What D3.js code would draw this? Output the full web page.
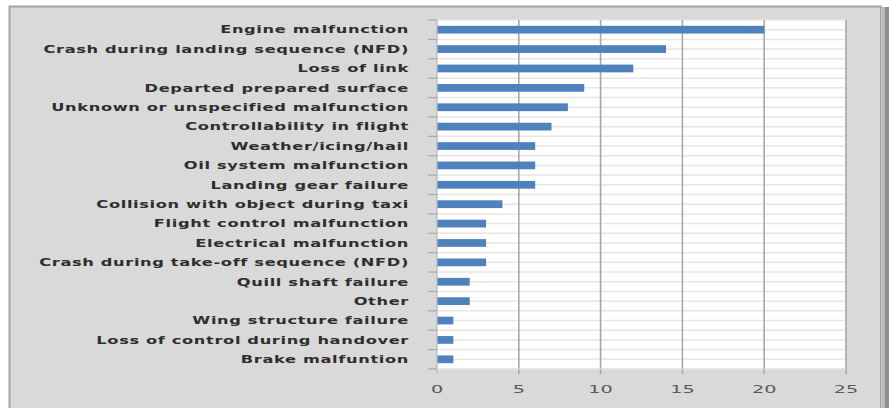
<!DOCTYPE html>
<html>
<head>
<meta charset="utf-8">
<script src="https://cdn.jsdelivr.net/npm/d3@7"></script>
<style>
  html, body { margin: 0; padding: 0; background: #ffffff; }
  svg { display: block; }
</style>
</head>
<body>
<svg id="chart" width="889" height="408"></svg>
<script>
// Incident causes and their counts, top to bottom
const causes = [
  "Engine malfunction",
  "Crash during landing sequence (NFD)",
  "Loss of link",
  "Departed prepared surface",
  "Unknown or unspecified malfunction",
  "Controllability in flight",
  "Weather/icing/hail",
  "Oil system malfunction",
  "Landing gear failure",
  "Collision with object during taxi",
  "Flight control malfunction",
  "Electrical malfunction",
  "Crash during take-off sequence (NFD)",
  "Quill shaft failure",
  "Other",
  "Wing structure failure",
  "Loss of control during handover",
  "Brake malfuntion"
];
const counts = [20, 14, 12, 9, 8, 7, 6, 6, 6, 4, 3, 3, 3, 2, 2, 1, 1, 1];
const xTicks = [0, 5, 10, 15, 20, 25];

const svg = d3.select("#chart");

// Chart frame
const frame = { left: 9.5, top: 6.5, right: 881, bottom: 420 };
const plot = { left: 437, right: 846, top: 20, bottom: 369 };

svg.append("rect")
  .attr("x", frame.left).attr("y", frame.top)
  .attr("width", frame.right - frame.left).attr("height", frame.bottom - frame.top)
  .attr("fill", "#d9d9d9").attr("stroke", "#a3a3a3").attr("stroke-width", 2);
// drop shadow along the right edge
svg.append("rect").attr("x", 881).attr("y", 7).attr("width", 3.5).attr("height", 420).attr("fill", "#bdbdbd");
svg.append("rect").attr("x", 884.5).attr("y", 7).attr("width", 5).attr("height", 420).attr("fill", "#8e8e8e");

const x = d3.scaleLinear().domain([0, 25]).range([plot.left, plot.right]);
const p = 0.6;
const y = d3.scaleBand().domain(causes).range([plot.top, plot.bottom])
  .paddingInner(p).paddingOuter(p / 2);
const step = y.step();

// Plot area
svg.append("rect")
  .attr("x", plot.left).attr("y", plot.top)
  .attr("width", plot.right - plot.left).attr("height", plot.bottom - plot.top)
  .attr("fill", "#ffffff");

// faint horizontal rules at band edges and centres
const halfLines = d3.range(causes.length * 2 + 1).map(i => plot.top + i * step / 2);
svg.append("g").selectAll("line").data(halfLines).join("line")
  .attr("x1", plot.left).attr("x2", plot.right)
  .attr("y1", d => d).attr("y2", d => d)
  .attr("stroke", "#e6e6e6").attr("stroke-width", 1.5);

// vertical gridlines, running a little below the plot as tick marks
svg.append("g").selectAll("line").data(xTicks.slice(1)).join("line")
  .attr("x1", d => x(d)).attr("x2", d => x(d))
  .attr("y1", plot.top).attr("y2", plot.bottom + 5)
  .attr("stroke", "#a8a8a8").attr("stroke-width", 1.6);

// category axis line and boundary ticks
svg.append("line")
  .attr("x1", x(0)).attr("x2", x(0))
  .attr("y1", plot.top).attr("y2", plot.bottom + 5)
  .attr("stroke", "#b5b5b5").attr("stroke-width", 1.2);
const bounds = d3.range(causes.length + 1).map(i => plot.top + i * step);
svg.append("g").selectAll("line").data(bounds).join("line")
  .attr("x1", x(0) - 9).attr("x2", x(0))
  .attr("y1", d => d).attr("y2", d => d)
  .attr("stroke", "#a8a8a8").attr("stroke-width", 1.2);
svg.append("line")
  .attr("x1", plot.left).attr("x2", plot.right)
  .attr("y1", plot.bottom).attr("y2", plot.bottom)
  .attr("stroke", "#e0e0e0").attr("stroke-width", 1.2);

// Bars
svg.append("g").selectAll("rect").data(causes).join("rect")
  .attr("x", x(0) + 0.5)
  .attr("y", d => y(d))
  .attr("width", (d, i) => x(counts[i]) - x(0) - 0.5)
  .attr("height", y.bandwidth())
  .attr("fill", "#4f81bd");

// Category labels (wide, bold face)
const labelX = 409;
const sx = 1.55;
const labels = svg.append("g")
  .attr("transform", `translate(${labelX},0) scale(${sx},1)`);
labels.selectAll("text").data(causes).join("text")
  .attr("x", 0)
  .attr("y", d => y(d) + y.bandwidth() / 2)
  .attr("dy", "0.36em")
  .attr("text-anchor", "end")
  .attr("font-family", "'DejaVu Sans', sans-serif")
  .attr("font-weight", "bold")
  .attr("font-size", 10.5)
  .attr("letter-spacing", 0.4)
  .attr("fill", "#2e2e2e")
  .text(d => d);

// Value axis labels
const tsx = 1.75;
svg.append("g").selectAll("text").data(xTicks).join("text")
  .attr("transform", d => `translate(${x(d)},${plot.bottom + 24}) scale(${tsx},1)`)
  .attr("text-anchor", "middle")
  .attr("font-family", "'DejaVu Sans', sans-serif")
  .attr("font-size", 11)
  .attr("fill", "#5a5a5a")
  .text(d => d);
</script>
</body>
</html>
